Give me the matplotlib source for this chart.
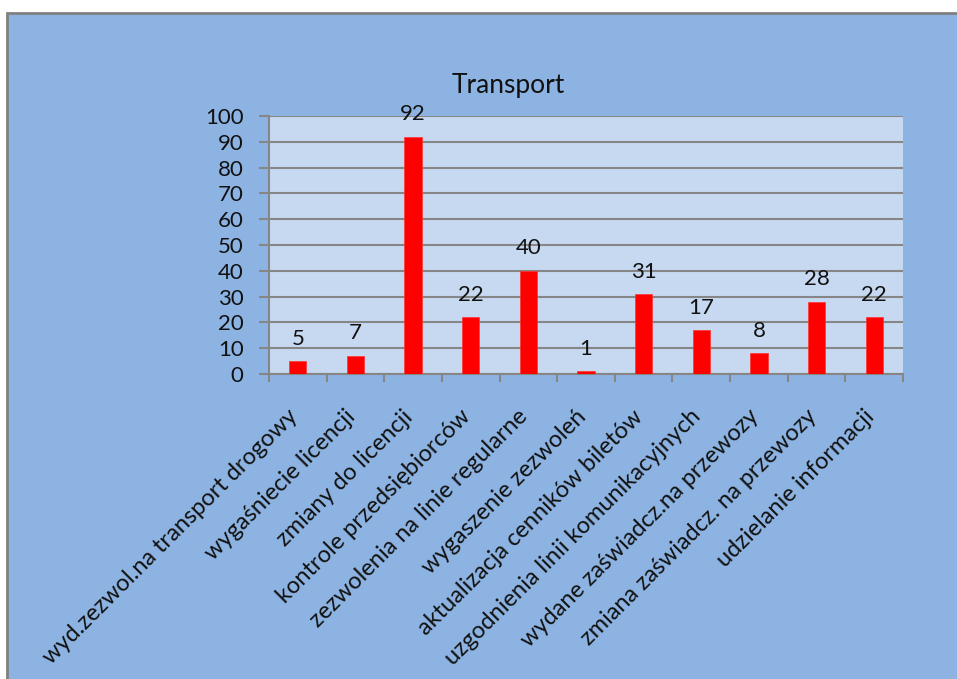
import matplotlib
matplotlib.use("Agg")
import matplotlib.pyplot as plt
from matplotlib.patches import Rectangle
import numpy as np

categories = [
    "wyd.zezwol.na transport drogowy",
    "wygaśniecie licencji",
    "zmiany do licencji",
    "kontrole przedsiębiorców",
    "zezwolenia na linie regularne",
    "wygaszenie zezwoleń",
    "aktualizacja cenników biletów",
    "uzgodnienia linii komunikacyjnych",
    "wydane zaświadcz.na przewozy",
    "zmiana zaświadcz. na przewozy",
    "udzielanie informacji",
]
values = [5, 7, 92, 22, 40, 1, 31, 17, 8, 28, 22]
y_ticks = [0, 10, 20, 30, 40, 50, 60, 70, 80, 90, 100]
title = "Transport"

plt.rcParams['font.family'] = ['Lato', 'DejaVu Sans']

W, H = 957, 679
fig = plt.figure(figsize=(W / 100, H / 100), dpi=100, facecolor='white')

outer_blue = '#8DB3E2'
plot_blue = '#C6D9F1'
grid_gray = '#868686'
text_col = '#111111'

fig.patches.append(Rectangle((7 / W, -0.05), 1.2, 1 - 13 / H + 0.05,
                             transform=fig.transFigure, facecolor=outer_blue,
                             edgecolor='#808080', linewidth=2, zorder=-10))

left, right, top, bottom = 269 / W, 903 / W, 1 - 116 / H, 1 - 374 / H
ax = fig.add_axes([left, bottom, right - left, top - bottom])
ax.set_facecolor(plot_blue)

x = np.arange(len(categories))
ax.bar(x, values, width=0.3, color='#FF0000', edgecolor='#FF3333', linewidth=0.5, zorder=3)
ax.set_xlim(-0.5, len(categories) - 0.5)
ax.set_ylim(0, 100)

ax.set_yticks(y_ticks)
ax.set_yticklabels([str(t) for t in y_ticks], fontsize=16, color=text_col)
ax.yaxis.grid(True, color=grid_gray, linewidth=1.5, zorder=1)
ax.set_axisbelow(True)

ax.set_xticks(np.arange(len(categories) + 1) - 0.5)
ax.set_xticklabels([])
ax.tick_params(axis='x', length=5.5, width=1.5, color=grid_gray, direction='out')
ax.tick_params(axis='y', length=7.2, width=1.5, color=grid_gray, direction='out', pad=11)

for s in ['top', 'right']:
    ax.spines[s].set_visible(False)
for s in ['left', 'bottom']:
    ax.spines[s].set_color(grid_gray)
    ax.spines[s].set_linewidth(1.5)

for xi, v in zip(x, values):
    ax.annotate(str(v), (xi, v), xytext=(0, 9), textcoords='offset points',
                ha='center', va='bottom', fontsize=16, color=text_col)

for xi, lab in zip(x, categories):
    ax.annotate(lab, (xi, 0), xytext=(-8, -23), textcoords='offset points',
                ha='right', va='top', rotation=45, rotation_mode='anchor',
                fontsize=17, color=text_col, annotation_clip=False)

fig.text(508 / W, 1 - 85 / H, title, ha='center', va='center', fontsize=19, color=text_col)

fig.savefig('out.png', dpi=100, facecolor='white')
